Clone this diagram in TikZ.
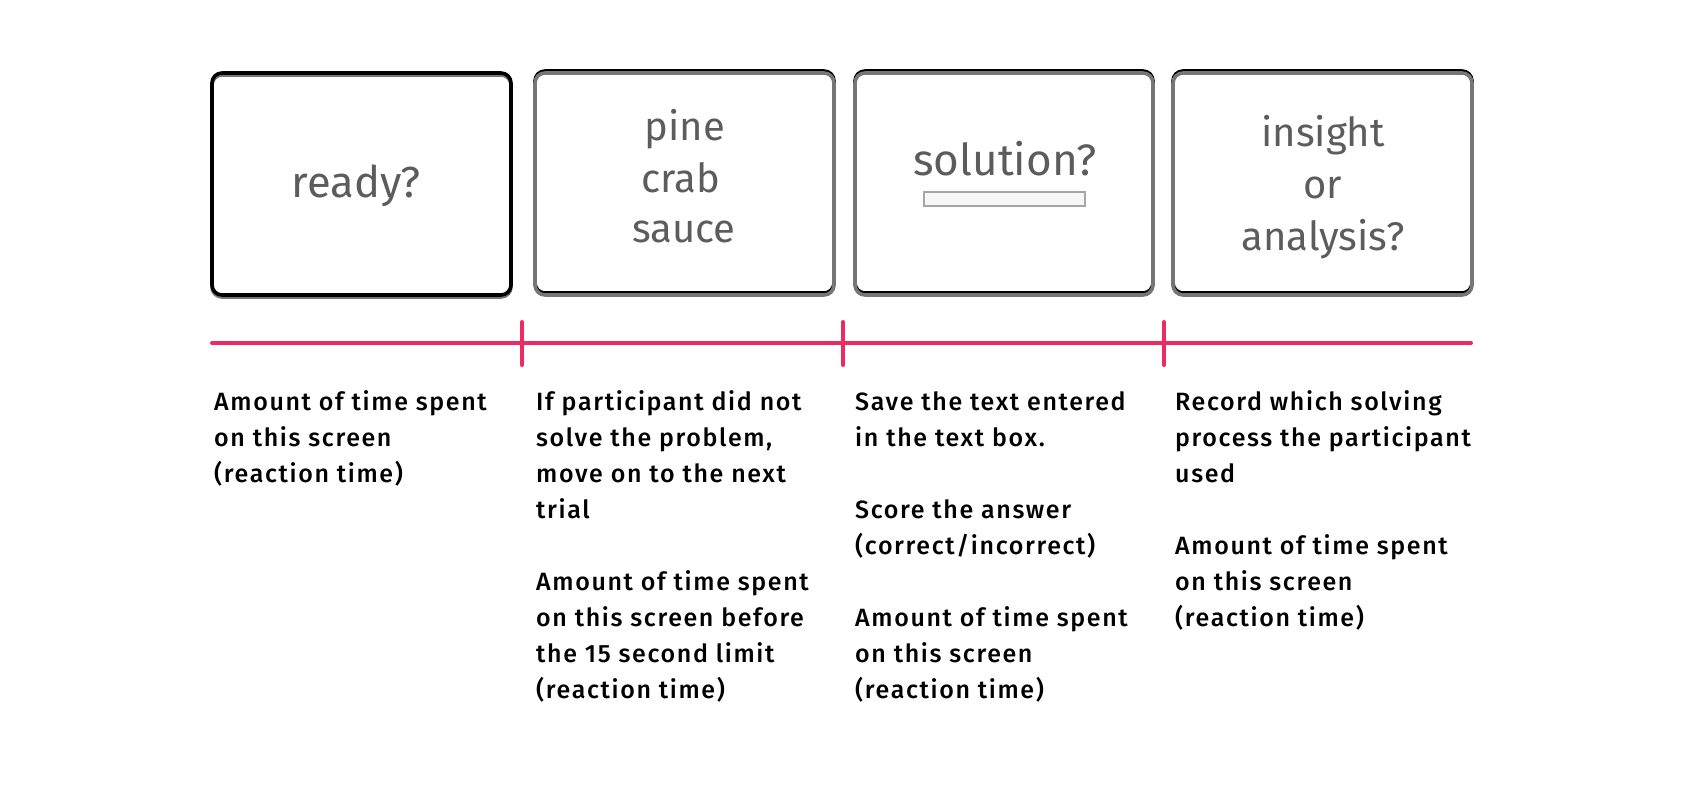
\documentclass[tikz,border=0pt]{standalone}
\usepackage{fontspec}
\setmainfont{Fira Sans}
\newfontfamily\bodyf{Fira Sans Medium}[LetterSpace=6.5]
\definecolor{pinkline}{HTML}{EE2A62}
\definecolor{boxgrey}{HTML}{767676}
\definecolor{screentext}{HTML}{5C5C5C}
\tikzset{
  scr/.style={rounded corners=10pt, line width=3.6pt},
  scrtext/.style={text=screentext, font=\fontsize{40}{51}\selectfont, align=center, inner sep=0pt, anchor=base},
  desc/.style={font=\bodyf\fontsize{25}{36}\selectfont, align=left, inner sep=0pt, anchor=north west, text=black},
  tl/.style={pinkline, line width=4pt, line cap=round}
}
\newcommand{\fl}{\rule{0pt}{20pt}}
\begin{document}
\begin{tikzpicture}[x=1pt,y=-1pt]
\useasboundingbox (0,0) rectangle (1687,792);
% screen 1
\draw[scr, boxgrey] (212,75) rectangle (511,297);
\draw[scr, black] (212,73) rectangle (511,295);
% screens 2-4
\foreach \a/\b in {535/834, 855/1153, 1173/1472}{
  \draw[scr, black] (\a,71) rectangle (\b,293);
  \draw[scr, boxgrey] (\a,73) rectangle (\b,295);
}
\node[scrtext, font=\fontsize{43.5}{51}\selectfont] (t1) at (356,197) {ready?};
\node[scrtext] (t2a) at (685,140) {pine};
\node[scrtext] (t2b) at (681,192) {crab};
\node[scrtext] (t2c) at (684,242) {sauce};
\node[scrtext, font=\fontsize{44}{51}\selectfont] (t3) at (1005,175) {solution?};
\draw[gray!70, line width=1.6pt, fill=gray!6] (924,192) rectangle (1085,206);
\node[scrtext] (t4a) at (1323,146) {insight};
\node[scrtext] (t4b) at (1323,198) {or};
\node[scrtext] (t4c) at (1323,250) {analysis?};
% timeline
\coordinate (ls) at (212,343);
\coordinate (le) at (1471,343);
\draw[tl] (ls) -- (le);
\foreach \x/\n in {522/a, 843/b, 1164/c}{
  \coordinate (top\n) at (\x,322);
  \coordinate (bot\n) at (\x,365);
  \draw[tl] (top\n) -- (bot\n);
}
% descriptions
\node[desc] (d1) at (214,390) {\fl Amount of time spent\\on this screen\\(reaction time)};
\node[desc] (d2) at (536,390) {\fl If participant did not\\solve the problem,\\move on to the next\\trial\\[36pt]Amount of time spent\\on this screen before\\the 15 second limit\\(reaction time)};
\node[desc] (d3) at (855,390) {\fl Save the text entered\\in the text box.\\[36pt]Score the answer\\(correct/incorrect)\\[36pt]Amount of time spent\\on this screen\\(reaction time)};
\node[desc] (d4) at (1175,390) {\fl Record which solving\\process the participant\\used\\[36pt]Amount of time spent\\on this screen\\(reaction time)};
\end{tikzpicture}
\end{document}
